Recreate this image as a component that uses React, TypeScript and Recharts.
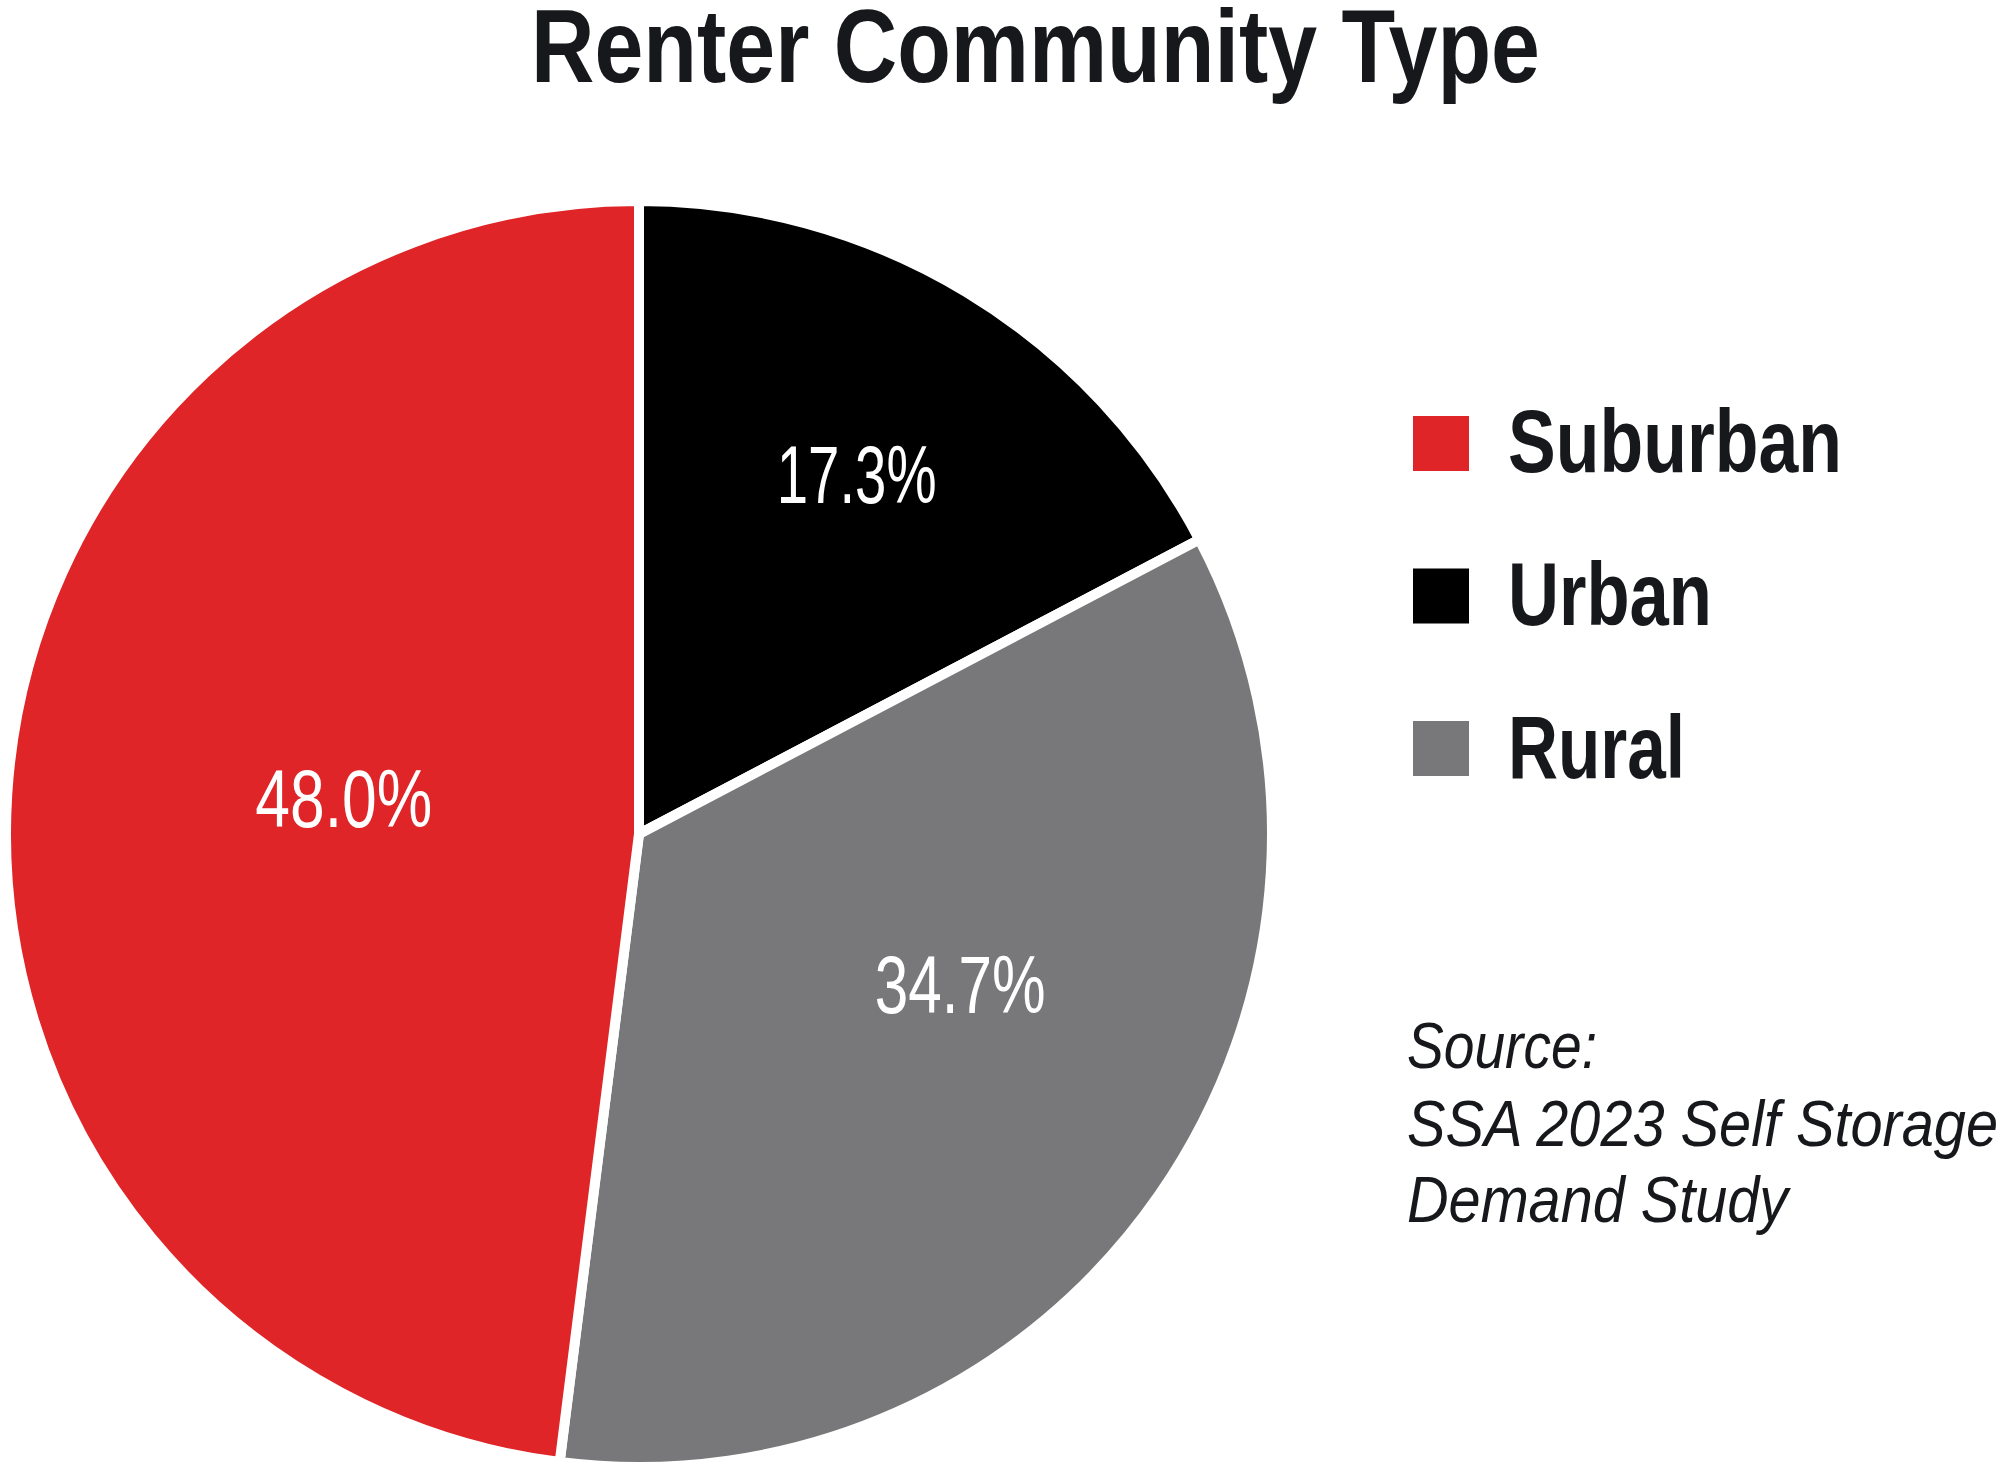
import { Cell, Pie, PieChart } from "recharts";

const CATEGORIES = ["Urban", "Rural", "Suburban"];
const SHARES = [17.3, 34.7, 48.0];
const SHARE_LABELS = ["17.3%", "34.7%", "48.0%"];
const LEGEND_ORDER = ["Suburban", "Urban", "Rural"];
const SOURCE_LINES = ["Source:", "SSA 2023 Self Storage", "Demand Study"];

const COLORS: Record<string, string> = {
  Suburban: "#df2527",
  Urban: "#000000",
  Rural: "#78787a",
};

// hand placement of the percentage text inside each slice
const LABEL_SPOT: Record<string, { r: number; shift: number; width: number }> = {
  Urban: { r: 0.665, shift: 0, width: 160 },
  Rural: { r: 0.56, shift: 9.7, width: 171 },
  Suburban: { r: 0.47, shift: -3.4, width: 177 },
};

const data = CATEGORIES.map((name, i) => ({
  name,
  value: SHARES[i],
  label: SHARE_LABELS[i],
}));

const TEXT = "#16181b";
const NARROW = "'Liberation Sans Narrow', 'Liberation Sans', Arial, sans-serif";
const RADIAN = Math.PI / 180;

const LEGEND_W: Record<string, number> = { Suburban: 334, Urban: 204, Rural: 177 };
const SOURCE_W = [190, 591, 381];

function SliceLabel(props: any) {
  const { cx, cy, midAngle, outerRadius, index } = props;
  const d = data[index];
  const spot = LABEL_SPOT[d.name];
  const a = (midAngle + spot.shift) * RADIAN;
  const r = outerRadius * spot.r;
  const x = cx + r * Math.cos(-a);
  const y = cy + r * Math.sin(-a);
  return (
    <text
      x={x}
      y={y + 29}
      fill="#ffffff"
      textAnchor="middle"
      fontFamily={NARROW}
      fontSize={81}
      textLength={spot.width}
      lengthAdjust="spacingAndGlyphs"
    >
      {d.label}
    </text>
  );
}

export default function App() {
  return (
    <div
      style={{
        position: "fixed",
        top: 0,
        left: 0,
        width: 2000,
        height: 1472,
        background: "#ffffff",
        overflow: "hidden",
      }}
    >
      <PieChart width={2000} height={1472}>
        <Pie
          data={data}
          dataKey="value"
          nameKey="name"
          cx={634}
          cy={829}
          outerRadius={633}
          startAngle={90}
          endAngle={-270}
          stroke="#ffffff"
          strokeWidth={10}
          label={SliceLabel}
          labelLine={false}
          isAnimationActive={false}
        >
          {data.map((d) => (
            <Cell key={d.name} fill={COLORS[d.name]} />
          ))}
        </Pie>
      </PieChart>

      <svg
        width={2000}
        height={1472}
        style={{ position: "absolute", top: 0, left: 0, pointerEvents: "none" }}
      >
        <text
          x={531}
          y={82}
          fill={TEXT}
          fontFamily={NARROW}
          fontWeight={700}
          fontSize={104}
          textLength={1009}
          lengthAdjust="spacingAndGlyphs"
        >
          Renter Community Type
        </text>

        {LEGEND_ORDER.map((name, i) => (
          <g key={name}>
            <rect x={1413} y={416 + i * 152.5} width={56} height={55} fill={COLORS[name]} />
            <text
              x={1508}
              y={472 + i * 153}
              fill={TEXT}
              fontFamily={NARROW}
              fontWeight={700}
              fontSize={89}
              textLength={LEGEND_W[name]}
              lengthAdjust="spacingAndGlyphs"
            >
              {name}
            </text>
          </g>
        ))}

        {SOURCE_LINES.map((line, i) => (
          <text
            key={line}
            x={1407}
            y={[1068, 1146, 1222][i]}
            fill={TEXT}
            fontFamily={NARROW}
            fontStyle="italic"
            fontSize={64}
            textLength={SOURCE_W[i]}
            lengthAdjust="spacingAndGlyphs"
          >
            {line}
          </text>
        ))}
      </svg>
    </div>
  );
}
